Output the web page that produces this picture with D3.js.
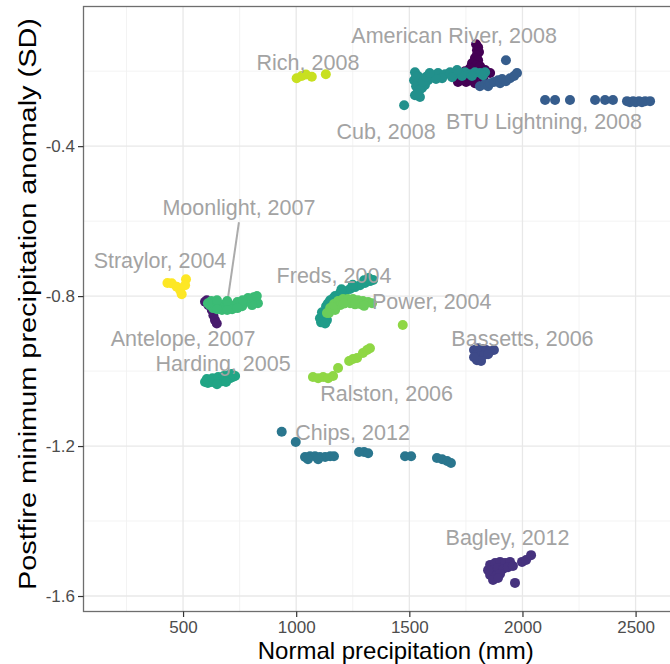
<!DOCTYPE html>
<html>
<head>
<meta charset="utf-8">
<script src="https://cdn.jsdelivr.net/npm/d3@7"></script>
<style>
  html, body { margin: 0; padding: 0; background: #ffffff; }
  svg { display: block; font-family: "Liberation Sans", Arial, Helvetica, sans-serif; }
</style>
</head>
<body>
<svg id="chart" width="670" height="664"></svg>
<script>
// ---- data: [normal precipitation (mm), postfire min precipitation anomaly (SD)] ----
const americanRiver = [[1795,-0.128],[1804,-0.136],[1799,-0.144],[1808,-0.149],[1799,-0.157],[1790,-0.165],[1804,-0.171],[1777,-0.179],[1795,-0.184],[1768,-0.192],[1813,-0.187],[1746,-0.2],[1759,-0.211],[1835,-0.197],[1857,-0.205],[1733,-0.219],[1751,-0.229],[1768,-0.224],[1786,-0.219],[1826,-0.219],[1715,-0.229],[1790,-0.232]];
const antelope = [[605,-0.811],[597,-0.815],[612,-0.824],[627,-0.837],[634,-0.851],[641,-0.864],[649,-0.873]];
const bagley = [[1857,-1.517],[1879,-1.512],[1901,-1.509],[1923,-1.512],[1945,-1.509],[1870,-1.531],[1892,-1.525],[1914,-1.528],[1936,-1.523],[1857,-1.544],[1879,-1.547],[1901,-1.541],[1870,-1.557],[1892,-1.552],[1848,-1.531],[1958,-1.52],[1998,-1.509],[2016,-1.504],[2038,-1.491],[1967,-1.565]];
const bassetts = [[1786,-0.944],[1804,-0.939],[1821,-0.941],[1839,-0.944],[1857,-0.947],[1874,-0.944],[1795,-0.957],[1813,-0.96],[1830,-0.957],[1848,-0.955],[1799,-0.971],[1817,-0.973],[1786,-0.963]];
const btuLightning = [[1812,-0.24],[1834,-0.235],[1848,-0.24],[1857,-0.232],[1874,-0.229],[1892,-0.224],[1901,-0.232],[1910,-0.221],[1927,-0.227],[1945,-0.219],[1963,-0.213],[1976,-0.205],[1927,-0.171],[2100,-0.277],[2144,-0.277],[2210,-0.277],[2321,-0.277],[2365,-0.277],[2400,-0.277],[2462,-0.28],[2489,-0.28],[2515,-0.28],[2542,-0.28],[2564,-0.28],[2475,-0.283],[2500,-0.283],[2528,-0.283]];
const chips = [[936,-1.162],[998,-1.189],[1039,-1.229],[1061,-1.227],[1083,-1.227],[1105,-1.229],[1128,-1.229],[1150,-1.227],[1167,-1.227],[1052,-1.235],[1097,-1.235],[1278,-1.216],[1300,-1.216],[1318,-1.219],[1481,-1.227],[1508,-1.227],[1622,-1.232],[1645,-1.235],[1667,-1.24],[1684,-1.245]];
const cub = [[1525,-0.203],[1538,-0.213],[1521,-0.224],[1547,-0.232],[1530,-0.24],[1556,-0.245],[1538,-0.256],[1525,-0.264],[1547,-0.269],[1569,-0.237],[1583,-0.224],[1477,-0.291],[1600,-0.211],[1627,-0.205],[1658,-0.208],[1680,-0.203],[1702,-0.208],[1724,-0.205],[1746,-0.203],[1768,-0.208],[1790,-0.203],[1813,-0.205],[1835,-0.203],[1645,-0.219],[1689,-0.216],[1733,-0.213],[1777,-0.213],[1826,-0.211],[1618,-0.221],[1711,-0.197],[1530,-0.215],[1545,-0.25],[1535,-0.26],[1560,-0.228],[1575,-0.215],[1590,-0.205]];
const freds = [[1105,-0.859],[1119,-0.869],[1136,-0.864],[1114,-0.843],[1132,-0.827],[1150,-0.811],[1172,-0.8],[1194,-0.792],[1216,-0.787],[1238,-0.781],[1260,-0.776],[1282,-0.771],[1304,-0.765],[1326,-0.76],[1340,-0.757],[1158,-0.824],[1185,-0.811],[1120,-0.85],[1140,-0.82],[1165,-0.805],[1200,-0.782],[1250,-0.77],[1300,-0.758],[1320,-0.752],[1110,-0.87],[1128,-0.873]];
const harding = [[597,-1.029],[610,-1.032],[619,-1.027],[628,-1.029],[641,-1.024],[663,-1.024],[672,-1.027],[686,-1.021],[708,-1.019],[720,-1.016],[730,-1.013],[605,-1.021],[630,-1.019],[655,-1.016],[680,-1.013],[700,-1.011],[715,-1.008],[650,-1.035],[690,-1.029]];
const moonlight = [[619,-0.824],[641,-0.819],[663,-0.827],[686,-0.821],[708,-0.829],[730,-0.824],[752,-0.819],[774,-0.816],[796,-0.813],[818,-0.811],[831,-0.819],[672,-0.837],[717,-0.835],[761,-0.827],[805,-0.824],[633,-0.832],[787,-0.805],[625,-0.813],[650,-0.811],[695,-0.813],[740,-0.816],[763,-0.811],[812,-0.803],[826,-0.8],[650,-0.835],[695,-0.837],[740,-0.832],[610,-0.819]];
const power = [[1136,-0.845],[1150,-0.832],[1167,-0.821],[1185,-0.813],[1207,-0.808],[1229,-0.808],[1251,-0.808],[1273,-0.811],[1295,-0.813],[1318,-0.816],[1335,-0.819],[1194,-0.824],[1238,-0.819],[1282,-0.821],[1172,-0.837],[1210,-0.82],[1260,-0.822],[1300,-0.826],[1160,-0.83],[1145,-0.845]];
const ralston = [[1074,-1.016],[1097,-1.019],[1119,-1.016],[1141,-1.019],[1163,-1.013],[1185,-0.992],[1234,-0.973],[1251,-0.968],[1269,-0.965],[1295,-0.952],[1313,-0.944],[1326,-0.939],[1471,-0.877]];
const rich = [[1002,-0.219],[1024,-0.213],[1043,-0.209],[1069,-0.215],[1131,-0.208]];
const straylor = [[431,-0.765],[450,-0.766],[472,-0.775],[487,-0.784],[494,-0.795],[513,-0.755],[509,-0.771]];

const fireNames = ["American River, 2008","Antelope, 2007","Bagley, 2012","Bassetts, 2006","BTU Lightning, 2008","Chips, 2012","Cub, 2008","Freds, 2004","Harding, 2005","Moonlight, 2007","Power, 2004","Ralston, 2006","Rich, 2008","Straylor, 2004"];
const firePoints = [americanRiver, antelope, bagley, bassetts, btuLightning, chips, cub, freds, harding, moonlight, power, ralston, rich, straylor];

// label anchors (data units) for each fire name
const labelMm = [1698, 500, 1934, 2000, 2095, 1249, 1397, 1167, 677, 747, 1599, 1400, 1052, 398];
const labelSd = [-0.104, -0.912, -1.442, -0.913, -0.333, -1.162, -0.360, -0.744, -0.979, -0.562, -0.815, -1.059, -0.176, -0.704];
// leader segment for the Moonlight label
const leaderFrom = [747, -0.603];
const leaderTo = [699, -0.803];

const xTicks = [500, 1000, 1500, 2000, 2500];
const xMinor = [250, 750, 1250, 1750, 2250, 2750];
const yTicks = [-0.4, -0.8, -1.2, -1.6];
const yMinor = [-0.2, -0.6, -1.0, -1.4];
const xTitle = "Normal precipitation (mm)";
const yTitle = "Postfire minimum precipitation anomaly (SD)";

// viridis-style palette, one colour per fire
const palette = ["#440154","#481b6d","#46327e","#3e4a89","#365d8d","#2a768e","#22908c","#1f9c89","#21a585","#3bbb75","#6ccd5a","#8fd744","#c8e020","#fde725"];

// ---- layout ----
const svg = d3.select("#chart");
const panel = { left: 83.5, top: 6.5, right: 708, bottom: 611.5 };

const x = d3.scaleLinear().domain([60, 2820]).range([panel.left, panel.right]);
const y = d3.scaleLinear().domain([-0.0275, -1.6413]).range([panel.top, panel.bottom]);

const color = d3.scaleOrdinal().domain(fireNames).range(palette);

svg.append("defs").append("clipPath").attr("id", "panelClip")
  .append("rect")
  .attr("x", panel.left).attr("y", panel.top)
  .attr("width", panel.right - panel.left).attr("height", panel.bottom - panel.top);

const g = svg.append("g").attr("clip-path", "url(#panelClip)");

// grid
g.selectAll("line.xminor").data(xMinor).join("line")
  .attr("x1", d => x(d)).attr("x2", d => x(d))
  .attr("y1", panel.top).attr("y2", panel.bottom)
  .attr("stroke", "#f2f2f2").attr("stroke-width", 0.9);
g.selectAll("line.yminor").data(yMinor).join("line")
  .attr("y1", d => y(d)).attr("y2", d => y(d))
  .attr("x1", panel.left).attr("x2", panel.right)
  .attr("stroke", "#f2f2f2").attr("stroke-width", 0.9);
g.selectAll("line.xmajor").data(xTicks).join("line")
  .attr("x1", d => x(d)).attr("x2", d => x(d))
  .attr("y1", panel.top).attr("y2", panel.bottom)
  .attr("stroke", "#e8e8e8").attr("stroke-width", 1.3);
g.selectAll("line.ymajor").data(yTicks).join("line")
  .attr("y1", d => y(d)).attr("y2", d => y(d))
  .attr("x1", panel.left).attr("x2", panel.right)
  .attr("stroke", "#e8e8e8").attr("stroke-width", 1.3);

// leader line
g.append("line")
  .attr("x1", x(leaderFrom[0])).attr("y1", y(leaderFrom[1]))
  .attr("x2", x(leaderTo[0])).attr("y2", y(leaderTo[1]))
  .attr("stroke", "#ababab").attr("stroke-width", 2);

// points
fireNames.forEach((name, i) => {
  g.append("g").selectAll("circle").data(firePoints[i]).join("circle")
    .attr("cx", d => x(d[0]))
    .attr("cy", d => y(d[1]))
    .attr("r", 5)
    .attr("fill", color(name));
});

// labels
g.selectAll("text.fire").data(fireNames).join("text")
  .attr("class", "fire")
  .attr("x", (d, i) => x(labelMm[i]))
  .attr("y", (d, i) => y(labelSd[i]))
  .attr("dy", "0.36em")
  .attr("text-anchor", "middle")
  .attr("font-size", 21.5)
  .attr("fill", "#a3a3a3")
  .text(d => d);

// panel border
svg.append("rect")
  .attr("x", panel.left).attr("y", panel.top)
  .attr("width", panel.right - panel.left).attr("height", panel.bottom - panel.top)
  .attr("fill", "none").attr("stroke", "#6e6e6e").attr("stroke-width", 1.3);

// axes
const xAxis = svg.append("g").attr("transform", `translate(0,${panel.bottom})`)
  .call(d3.axisBottom(x).tickValues(xTicks).tickSize(5.5).tickPadding(4).tickFormat(d3.format("d")));
const yAxis = svg.append("g").attr("transform", `translate(${panel.left},0)`)
  .call(d3.axisLeft(y).tickValues(yTicks).tickSize(5.5).tickPadding(3).tickFormat(d => d.toFixed(1)));
[xAxis, yAxis].forEach(a => {
  a.select(".domain").remove();
  a.selectAll(".tick line").attr("stroke", "#333333").attr("stroke-width", 1.2);
  a.selectAll(".tick text").attr("fill", "#4d4d4d").attr("font-size", 17)
    .attr("font-family", "'Liberation Sans', Arial, sans-serif");
});

// axis titles
svg.append("text")
  .attr("x", (panel.left + panel.right) / 2).attr("y", 659)
  .attr("text-anchor", "middle").attr("font-size", 24).attr("fill", "#000")
  .text(xTitle);
svg.append("text")
  .attr("transform", `translate(36,${(panel.top + panel.bottom) / 2 - 5}) rotate(-90)`)
  .attr("text-anchor", "middle").attr("font-size", 23).attr("fill", "#000")
  .attr("textLength", 572).attr("lengthAdjust", "spacingAndGlyphs")
  .text(yTitle);
</script>
</body>
</html>
